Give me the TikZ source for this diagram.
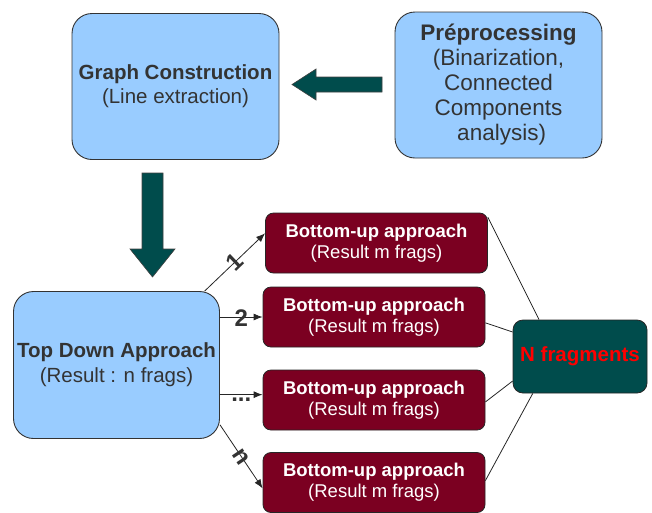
\documentclass[tikz,border=0pt]{standalone}
\usepackage{fontspec}
\setmainfont{Liberation Sans}
\usetikzlibrary{arrows.meta}
\definecolor{lblue}{HTML}{99CCFF}
\definecolor{wine}{HTML}{7B0021}
\definecolor{dteal}{HTML}{004C4C}
\definecolor{dgray}{HTML}{333333}
\definecolor{nred}{HTML}{FF0000}
\begin{document}
\begin{tikzpicture}[x=1pt,y=-1pt,
  bluebox/.style={draw=dgray, fill=lblue, rounded corners=20pt, line width=0.9pt, text=dgray, align=center, inner sep=0pt},
  bubox/.style={draw=black!85, fill=wine, rounded corners=8pt, line width=0.8pt, minimum width=222pt, minimum height=60pt, text=white, align=center, inner sep=0pt, font=\fontsize{18.5}{21}\selectfont},
  fragbox/.style={draw=black!85, fill=dteal, rounded corners=10pt, line width=0.8pt, minimum width=134pt, minimum height=73pt, inner sep=0pt, text=nred, font=\fontsize{20.5}{24}\selectfont\bfseries},
  blockarrow/.style={fill=dteal, draw=black!75, line width=0.6pt},
  conn/.style={draw=black!85, line width=0.8pt},
  arr/.style={conn, -{Latex[length=9pt,width=7pt]}},
  lbl/.style={text=dgray, font=\fontsize{24}{24}\selectfont\bfseries, inner sep=0pt}
]
\useasboundingbox (0,0) rectangle (652,512);

\node[bluebox, minimum width=207pt, minimum height=146pt, font=\fontsize{20.5}{24}\selectfont] (gc) at (175.5,86.5) {\textbf{Graph Construction}\\(Line extraction)};
\node[bluebox, minimum width=207pt, minimum height=146pt, font=\fontsize{22.5}{25}\selectfont] (pre) at (498.5,85) {\textbf{Préprocessing}\\(Binarization,\\Connected\\Components\\\ analysis)};
\node[bluebox, minimum width=206pt, minimum height=147pt, font=\fontsize{20.5}{25}\selectfont] (td) at (116.5,365) {\textbf{Top Down Approach}\\(Result : n frags)};

\node[bubox] (b1) at (376.5,243) {\textbf{Bottom-up approach}\\(Result m frags)};
\node[bubox] (b2) at (374,317) {\textbf{Bottom-up approach}\\(Result m frags)};
\node[bubox] (b3) at (374,400) {\textbf{Bottom-up approach}\\(Result m frags)};
\node[bubox] (b4) at (374,482.5) {\textbf{Bottom-up approach}\\(Result m frags)};

\node[fragbox] (nf) at (580,356.5) {N fragments};

% block arrows
\draw[blockarrow] (382,77) -- (316,77) -- (316,69) -- (292,84.5) -- (316,100) -- (316,92) -- (382,92) -- cycle;
\draw[blockarrow] (142,173) -- (163,173) -- (163,249) -- (175,249) -- (152.5,277) -- (130,249) -- (142,249) -- cycle;

% connectors from top-down approach
\draw[arr] (td.40) -- (b1.175) node[lbl, sloped, midway] {1};
\draw[arr] (td.east |- b2.west) -- (b2.west) node[lbl, midway, yshift=-1pt] {2};
\draw[arr] (td.-16) -- (td.-16 -| b3.west) node[lbl, midway, below=3pt] {...};
\draw[arr] (td.-30) -- (b4.183.5) node[lbl, sloped, midway] {n};

% lines to N fragments
\draw[conn] (b1.13) -- (nf.138);
\draw[conn] (b2.-3) -- (nf.160);
\draw[conn] (b3.-1) -- (nf.200);
\draw[conn] (b4.1) -- (nf.218);
\end{tikzpicture}
\end{document}
